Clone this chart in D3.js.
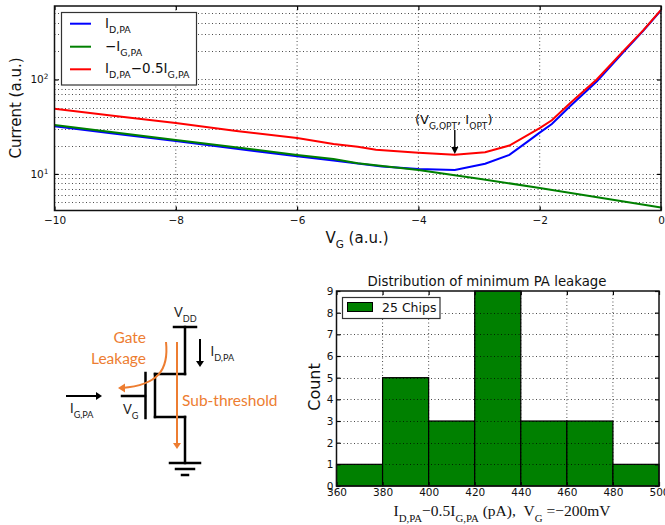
<!DOCTYPE html>
<html>
<head>
<meta charset="utf-8">
<script src="https://d3js.org/d3.v7.min.js"></script>
<style>
    body { margin: 0; background: #fff; }
    svg { display: block; font-family: "DejaVu Sans", sans-serif; }
    .grid line { stroke: #000; stroke-width: 1; stroke-dasharray: 1 2.5; opacity: 0.7; }
    .axis path { display: none; }
    .axis line { stroke: #000; stroke-width: 1.2; }
    .axis text { fill: #111; }
    .frame { fill: none; stroke: #111; stroke-width: 1.5; }
    .legend-box { fill: #fff; stroke: #333; stroke-width: 1.2; }
</style>
</head>
<body>
<div id="myPlot"></div>
<script>
    // curve data
    const vgBlue = [-10, -9, -8, -7, -6, -5.4, -5, -4.6, -4, -3.4, -2.9, -2.5, -2.2, -2, -1.8, -1.5, -1.06, -0.63, -0.29, 0];
    const idPa = [32, 26.6, 22.3, 18.5, 15.4, 13.9, 12.9, 12, 11.3, 11, 12.8, 15.9, 22, 27.4, 33.8, 52, 95, 192, 330, 540];
    const vgGreen = [-10, -8, -6, -5.4, -5, -4, -3, -2, -1, 0];
    const igPa = [33, 22.9, 15.9, 14.4, 13, 11, 8.9, 7.1, 5.6, 4.4];
    const vgRed = [-10, -9, -8, -7, -6, -5.4, -5, -4.7, -4, -3.4, -2.9, -2.5, -2, -1.8, -1.5, -1.06, -0.63, -0.29, 0];
    const idComb = [49, 41, 34.6, 28.5, 24, 20.8, 19.4, 18, 16.8, 16, 17, 20, 30.5, 37, 56, 100, 197, 333, 545];

    // histogram
    const binEdges = [360, 380, 400, 420, 440, 460, 480];
    const binCounts = [1, 5, 3, 9, 3, 3, 1];
    const binWidth = 20;

    const xTicksTop = [-10, -8, -6, -4, -2, 0];
    const yTicksTop = [10, 100];
    const yMinorTop = [5, 6, 7, 8, 9, 10, 20, 30, 40, 50, 60, 70, 80, 90, 100, 200, 300, 400, 500];
    const xTicksHist = [360, 380, 400, 420, 440, 460, 480, 500];
    const yTicksHist = [0, 1, 2, 3, 4, 5, 6, 7, 8, 9];

    const svg = d3.select("#myPlot").append("svg")
        .attr("width", 665)
        .attr("height", 525);

    // text with sub/superscript parts: [text, "sub"|"sup"|undefined]
    function richText(g, x, y, parts, size, anchor, color) {
        const t = g.append("text")
            .attr("x", x).attr("y", y)
            .attr("font-size", size)
            .attr("text-anchor", anchor || "start")
            .attr("fill", color || "#111");
        let shift = 0;
        parts.forEach(p => {
            const want = p[1] === "sub" ? size * 0.36 : p[1] === "sup" ? -size * 0.4 : 0;
            t.append("tspan")
                .attr("dy", want - shift)
                .attr("font-size", p[1] ? size * 0.7 : size)
                .text(p[0]);
            shift = want;
        });
        return t;
    }

    // ---- top chart ----
    const top1 = {l: 54.5, r: 661, t: 6, b: 210.5};
    const x1 = d3.scaleLinear().domain([-10, 0]).range([top1.l, top1.r]);
    const y1 = d3.scaleLog().domain([4.1, 600]).range([top1.b, top1.t]);
    const g1 = svg.append("g");

    g1.append("g").attr("class", "grid").selectAll("line").data(yMinorTop).join("line")
        .attr("x1", top1.l).attr("x2", top1.r)
        .attr("y1", d => Math.round(y1(d)) + 0.5).attr("y2", d => Math.round(y1(d)) + 0.5);
    g1.append("g").attr("class", "grid").selectAll("line").data(xTicksTop).join("line")
        .attr("x1", d => x1(d)).attr("x2", d => x1(d))
        .attr("y1", top1.t).attr("y2", top1.b);

    const line1 = (xs, ys) => d3.line().x(d => x1(d)).y((d, i) => y1(ys[i]))(xs);
    g1.append("path").attr("d", line1(vgBlue, idPa)).attr("fill", "none").attr("stroke", "#0000ff").attr("stroke-width", 2);
    g1.append("path").attr("d", line1(vgGreen, igPa)).attr("fill", "none").attr("stroke", "#008000").attr("stroke-width", 2);
    g1.append("path").attr("d", line1(vgRed, idComb)).attr("fill", "none").attr("stroke", "#ff0000").attr("stroke-width", 2);

    g1.append("g").attr("class", "axis").attr("transform", `translate(0,${top1.b})`)
        .call(d3.axisBottom(x1).tickValues(xTicksTop).tickSize(-4).tickPadding(6))
        .attr("font-size", 10.5).attr("font-family", null);
    g1.append("g").attr("class", "axis").attr("transform", `translate(0,${top1.t})`)
        .call(d3.axisTop(x1).tickValues(xTicksTop).tickSize(-4).tickFormat(""));
    g1.append("g").attr("class", "axis").attr("transform", `translate(${top1.r},0)`)
        .call(d3.axisRight(y1).tickValues(yTicksTop).tickSize(-4).tickFormat(""));
    g1.append("g").attr("class", "axis").attr("transform", `translate(${top1.l},0)`)
        .call(d3.axisLeft(y1).tickValues(yTicksTop).tickSize(-4).tickFormat(""));
    yTicksTop.forEach(v => {
        richText(g1, top1.l - 6, y1(v) + 4, [["10"], [String(Math.log10(v)), "sup"]], 10.5, "end");
    });
    g1.append("rect").attr("class", "frame")
        .attr("x", top1.l).attr("y", top1.t)
        .attr("width", top1.r - top1.l).attr("height", top1.b - top1.t);

    g1.append("text").attr("transform", "translate(21,108) rotate(-90)")
        .attr("text-anchor", "middle").attr("font-size", 15).attr("fill", "#111").text("Current (a.u.)");
    richText(g1, 357, 243, [["V"], ["G", "sub"], [" (a.u.)"]], 15, "middle");

    // legend
    const legend1 = g1.append("g");
    legend1.append("rect").attr("class", "legend-box").attr("x", 61.5).attr("y", 12.5).attr("width", 135).attr("height", 72.5);
    const legendRows = [
        {c: "#0000ff", y: 23.7, parts: [["I"], ["D,PA", "sub"]]},
        {c: "#008000", y: 46.7, parts: [["\u2212I"], ["G,PA", "sub"]]},
        {c: "#ff0000", y: 69.3, parts: [["I"], ["D,PA", "sub"], ["\u22120.5I"], ["G,PA", "sub"]]}
    ];
    legendRows.forEach(r => {
        legend1.append("line").attr("x1", 70).attr("x2", 91).attr("y1", r.y).attr("y2", r.y)
            .attr("stroke", r.c).attr("stroke-width", 2);
        richText(legend1, 105, r.y + 4, r.parts, 13.5);
    });

    // annotation
    richText(g1, 415, 124, [["(V"], ["G,OPT", "sub"], [", I"], ["OPT", "sub"], [")"]], 13);
    g1.append("line").attr("x1", x1(-3.4)).attr("x2", x1(-3.4)).attr("y1", 130).attr("y2", 149)
        .attr("stroke", "#000").attr("stroke-width", 1.4);
    g1.append("path")
        .attr("d", d3.line()([[x1(-3.4) - 3.5, 147], [x1(-3.4) + 3.5, 147], [x1(-3.4), 154]]))
        .attr("fill", "#000");

    // ---- schematic ----
    const orange = "#ed7d31";
    const schem = svg.append("g");
    const wires = [
        [[174, 327], [196, 327]], [[185, 327], [185, 374]], [[185, 374], [155, 374]],
        [[155, 374], [155, 417]], [[155, 417], [185, 417]], [[185, 417], [185, 463]],
        [[170, 463], [200, 463]], [[176, 469], [194, 469]], [[182, 475], [188, 475]],
        [[145.5, 373], [145.5, 418]], [[122, 396], [145, 396]]
    ];
    schem.selectAll("line.wire").data(wires).join("line").attr("class", "wire")
        .attr("x1", d => d[0][0]).attr("y1", d => d[0][1])
        .attr("x2", d => d[1][0]).attr("y2", d => d[1][1])
        .attr("stroke", "#000").attr("stroke-width", 2.5).attr("stroke-linecap", "square");

    function arrow(x1a, y1a, x2a, y2a, color, w) {
        schem.append("line").attr("x1", x1a).attr("y1", y1a).attr("x2", x2a).attr("y2", y2a)
            .attr("stroke", color).attr("stroke-width", w);
        const a = Math.atan2(y2a - y1a, x2a - x1a), s = 6, h = 4;
        const tip = [x2a + Math.cos(a) * s, y2a + Math.sin(a) * s];
        const p1 = [x2a - Math.sin(a) * h, y2a + Math.cos(a) * h];
        const p2 = [x2a + Math.sin(a) * h, y2a - Math.cos(a) * h];
        schem.append("path").attr("d", d3.line()([tip, p1, p2])).attr("fill", color);
    }
    arrow(200, 339, 200, 361, "#000", 2);
    arrow(66, 396, 96, 396, "#000", 2);
    arrow(177, 342, 177, 443, orange, 2);
    schem.append("path")
        .attr("d", "M166,342 C169,370 158,385 122,388")
        .attr("fill", "none").attr("stroke", orange).attr("stroke-width", 2);
    schem.append("path").attr("d", d3.line()([[118, 388], [125, 383.5], [125, 392.5]])).attr("fill", orange);

    const schemFont = "Lato, sans-serif";
    [
        richText(schem, 174, 317, [["V"], ["DD", "sub"]], 13, "start", "#222"),
        richText(schem, 210.5, 356, [["I"], ["D,PA", "sub"]], 13, "start", "#222"),
        richText(schem, 70, 413, [["I"], ["G,PA", "sub"]], 13, "start", "#222"),
        richText(schem, 123, 414, [["V"], ["G", "sub"]], 13, "start", "#222"),
        richText(schem, 146, 343, [["Gate"]], 15.5, "end", orange),
        richText(schem, 146, 364, [["Leakage"]], 15.5, "end", orange),
        richText(schem, 182, 406, [["Sub-threshold"]], 15.5, "start", orange)
    ].forEach(t => t.style("font-family", schemFont));

    // ---- histogram ----
    const hist = {l: 336.5, r: 659, t: 291, b: 486};
    const x2 = d3.scaleLinear().domain([360, 500]).range([hist.l, hist.r]);
    const y2 = d3.scaleLinear().domain([0, 9]).range([hist.b, hist.t]);
    const g2 = svg.append("g");

    g2.append("g").selectAll("rect").data(binCounts).join("rect")
        .attr("x", (d, i) => x2(binEdges[i]))
        .attr("width", (d, i) => x2(binEdges[i] + binWidth) - x2(binEdges[i]))
        .attr("y", d => y2(d))
        .attr("height", d => y2(0) - y2(d))
        .attr("fill", "#008000").attr("stroke", "#000").attr("stroke-width", 1.2);

    g2.append("g").attr("class", "grid").selectAll("line").data(yTicksHist.slice(1, -1)).join("line")
        .attr("x1", hist.l).attr("x2", hist.r)
        .attr("y1", d => Math.round(y2(d)) + 0.5).attr("y2", d => Math.round(y2(d)) + 0.5);
    g2.append("g").attr("class", "grid").selectAll("line").data(xTicksHist.slice(1, -1)).join("line")
        .attr("x1", d => x2(d)).attr("x2", d => x2(d))
        .attr("y1", hist.t).attr("y2", hist.b);

    g2.append("g").attr("class", "axis").attr("transform", `translate(0,${hist.b})`)
        .call(d3.axisBottom(x2).tickValues(xTicksHist).tickSize(-4).tickPadding(3))
        .attr("font-size", 10.5).attr("font-family", null);
    g2.append("g").attr("class", "axis").attr("transform", `translate(${hist.l},0)`)
        .call(d3.axisLeft(y2).tickValues(yTicksHist).tickSize(-4).tickPadding(3))
        .attr("font-size", 10.5).attr("font-family", null);
    g2.append("g").attr("class", "axis").attr("transform", `translate(0,${hist.t})`)
        .call(d3.axisTop(x2).tickValues(xTicksHist).tickSize(-4).tickFormat(""));
    g2.append("g").attr("class", "axis").attr("transform", `translate(${hist.r},0)`)
        .call(d3.axisRight(y2).tickValues(yTicksHist).tickSize(-4).tickFormat(""));
    g2.append("rect").attr("class", "frame")
        .attr("x", hist.l).attr("y", hist.t)
        .attr("width", hist.r - hist.l).attr("height", hist.b - hist.t);

    g2.append("text").attr("x", 487).attr("y", 286).attr("text-anchor", "middle")
        .attr("font-size", 13.3).attr("fill", "#111").text("Distribution of minimum PA leakage");
    g2.append("text").attr("transform", "translate(320,387) rotate(-90)")
        .attr("text-anchor", "middle").attr("font-size", 16).attr("fill", "#111").text("Count");
    richText(g2, 502, 516, [["I"], ["D,PA", "sub"], ["\u22120.5I"], ["G,PA", "sub"], [" (pA),\u00a0\u00a0V"], ["G", "sub"], ["\u00a0=\u2212200mV"]], 15.5, "middle")
        .style("font-family", "'Liberation Serif', serif");

    g2.append("rect").attr("class", "legend-box").attr("x", 342.5).attr("y", 297.5).attr("width", 97.5).attr("height", 21);
    g2.append("rect").attr("x", 347.5).attr("y", 302.5).attr("width", 25).attr("height", 9)
        .attr("fill", "#008000").attr("stroke", "#000");
    g2.append("text").attr("x", 382).attr("y", 312).attr("font-size", 12.5).attr("fill", "#111").text("25 Chips");
</script>
</body>
</html>
